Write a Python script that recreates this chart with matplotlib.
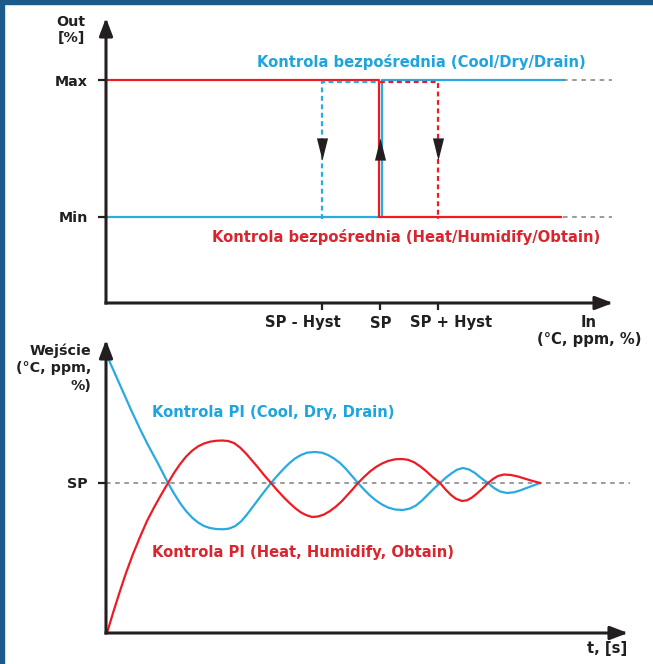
import matplotlib.pyplot as plt
from matplotlib.patches import Rectangle
from matplotlib.transforms import offset_copy, ScaledTranslation

W, H = 653, 664
DARK = '#231f20'
BLUE = '#29aae1'
RED = '#ed1c24'
BLUE_TXT = '#1ea5df'
RED_TXT = '#d9262e'
GREY = '#808080'

# --- histereza (gorny wykres) ---
in_ticks = [-1, 0, 1]
in_labels = ['SP - Hyst', 'SP', 'SP + Hyst']
out_ticks = [0, 1]
out_labels = ['Min', 'Max']
in_start, in_end, in_dash_end = -4.72, 3.15, 4.0

cool_x = [in_start, 0, 0, in_end]
cool_y = [0, 0, 1, 1]
heat_x = [in_start, 0, 0, in_end]
heat_y = [1, 1, 0, 0]
cool_ret_x = [-1, -1, 0]
cool_ret_y = [0, 1, 1]
heat_ret_x = [0, 1, 1]
heat_ret_y = [1, 1, 0]
arrow_x = [-1, 0, 1]
arrow_up = [False, True, False]
arrow_level = 0.5

# --- regulacja PI (dolny wykres) ---
sp_value = 0
cool_t = [2, 10, 18, 26, 34, 42, 52, 62,
          68, 74, 80, 86, 92, 98, 104, 110, 117, 123, 129, 135, 141, 147,
          153, 159, 165,
          171, 177, 183, 189, 195, 201, 209, 216, 222, 228, 234, 240, 246,
          252,
          258, 264, 270, 276, 282, 289, 297, 304, 310, 316, 322, 328, 334,
          340, 346, 351, 357, 363, 369, 375, 382,
          388, 394, 401, 408, 414, 420, 427, 434]
cool_v = [125, 107, 89, 71, 54, 38, 19.5, 0,
          -10.5, -20, -28, -34.5, -39.5, -43, -45, -46, -46.3, -45.6, -43.2,
          -38.5, -31.5, -23.5, -15.5, -7.7, 0,
          7, 13.5, 19.5, 24.5, 28, 30.3, 31, 30.3, 28, 24.5, 20, 14, 7,
          0,
          -6.5, -12.5, -17.5, -21.5, -24.5, -26.5, -27, -25.5, -22.5, -17.5,
          -11.5, -5.5, 0,
          5.5, 10, 13.3, 15, 13.5, 10, 5, 0,
          -5, -8.5, -10, -9.3, -7.5, -5.2, -2.6, 0]
heat_t = [1, 7, 14, 20, 27, 34, 41, 48, 55, 62,
          68, 74, 80, 86, 92, 98, 104, 110, 116, 122, 128, 134, 140, 146,
          152, 158, 165,
          171, 177, 183, 189, 195, 200, 206, 212, 218, 224, 230, 236, 241,
          246, 252,
          258, 264, 270, 276, 282, 289, 296, 302, 308, 314, 320, 326, 334,
          340, 345, 350, 356, 361, 366, 371, 376, 382,
          387, 392, 398, 405, 412, 419, 426, 434]
heat_v = [-150, -130, -108, -90, -71, -54, -38, -24.5, -12, 0,
          10, 18.8, 26.3, 32.2, 36.6, 39.5, 41.3, 42.2, 42.5, 42, 40, 35.5,
          29.5, 22.5, 15.5, 8, 0,
          -7, -13.5, -19.5, -25, -29.5, -32, -34, -33.5, -31.5, -28, -23.5,
          -18, -12.5, -7, 0,
          6, 11.5, 16, 19.5, 22, 23.7, 24, 23.2, 20.8, 16.8, 12, 6.5, 0,
          -7, -12, -15.8, -18, -17.3, -14.5, -10.5, -6, 0,
          4, 7, 8.5, 8, 6.5, 4.3, 2.2, 0]

plt.rcParams['font.family'] = 'DejaVu Sans'
plt.rcParams['font.weight'] = 'bold'
plt.rcParams['font.size'] = 10.6

fig = plt.figure(figsize=(W / 100, H / 100), dpi=100)


def box(x0, y0, x1, y1):
    return [x0 / W, 1 - y1 / H, (x1 - x0) / W, (y1 - y0) / H]


def arrow_axes(ax):
    for s in ax.spines.values():
        s.set_visible(False)
    style = '-|>,head_length=1.0,head_width=0.38'
    for xy in [(1, 0), (0, 1)]:
        ax.annotate('', xy=xy, xytext=(0, 0), xycoords='axes fraction',
                    arrowprops=dict(arrowstyle=style, lw=2.2, color=DARK,
                                    shrinkA=0, shrinkB=0, capstyle='projecting'))


def ftext(x, y, s, **kw):
    kw.setdefault('color', DARK)
    fig.text(x / W, 1 - y / H, s, fontweight='bold', **kw)


# ---------------- gorny wykres ----------------
ax1 = fig.add_axes(box(106, 18, 613, 303))
ax1.set_xlim(-4.724, 4.017)
ax1.set_ylim(-0.628, 1.453)
arrow_axes(ax1)

left = offset_copy(ax1.transData, fig=fig, x=-1.5, y=0, units='dots')
right = offset_copy(ax1.transData, fig=fig, x=1.5, y=0, units='dots')
below = offset_copy(ax1.transData, fig=fig, x=0, y=-2, units='dots')

ax1.plot(cool_x, cool_y, color=BLUE, lw=1.6, transform=right)
ax1.plot(heat_x, heat_y, color=RED, lw=1.6, transform=left)
ax1.plot(cool_ret_x, cool_ret_y, color=BLUE, lw=1.6, ls=(0, (2.2, 1.6)),
         transform=below)
ax1.plot(heat_ret_x, heat_ret_y, color=RED, lw=1.6, ls=(0, (2.2, 1.6)),
         transform=below)
for lvl in out_ticks:
    ax1.plot([in_end, in_dash_end], [lvl, lvl], color=GREY, lw=1.1,
             ls=(0, (3, 3)), clip_on=False)

down_tri = [(-0.5, 1), (0.5, 1), (0, -1), (-0.5, 1)]
up_tri = [(-0.5, -1), (0.5, -1), (0, 1), (-0.5, -1)]
for x, up in zip(arrow_x, arrow_up):
    ax1.plot([x], [arrow_level], marker=up_tri if up else down_tri,
             ms=16, color=DARK, mec=DARK, mew=0)

ax1.set_xticks(in_ticks)
ax1.set_xticklabels(in_labels)
ax1.set_yticks(out_ticks)
ax1.set_yticklabels(out_labels, fontsize=10.3)
ax1.tick_params(axis='x', length=5, width=1.6, color=DARK, pad=4,
                labelcolor=DARK)
ax1.tick_params(axis='y', length=6, width=1.6, color=DARK, pad=7,
                labelcolor=DARK)
shifts = [-19, 1, 13]
for lab, dx in zip(ax1.get_xticklabels(), shifts):
    lab.set_transform(lab.get_transform() +
                      ScaledTranslation(dx / 100, 0, fig.dpi_scale_trans))

ftext(71, 30, 'Out\n[%]', ha='center', va='center', multialignment='center',
      fontsize=10.3)
ftext(589, 331, 'In\n(°C, ppm, %)', ha='center', va='center',
      multialignment='center', linespacing=1.2)
ftext(421, 62, 'Kontrola bezpośrednia (Cool/Dry/Drain)', ha='center',
      va='center', color=BLUE_TXT)
ftext(406, 237, 'Kontrola bezpośrednia (Heat/Humidify/Obtain)', ha='center',
      va='center', color=RED_TXT)

# ---------------- dolny wykres ----------------
ax2 = fig.add_axes(box(106, 340, 628, 633))
ax2.set_xlim(0, 522)
ax2.set_ylim(-150, 143)
arrow_axes(ax2)

ax2.axhline(sp_value, color=GREY, lw=1.1, ls=(0, (3, 3)), xmax=1.004,
            clip_on=False)
ax2.plot(cool_t, cool_v, color=BLUE, lw=1.6, clip_on=False,
         solid_joinstyle='round')
ax2.plot(heat_t, heat_v, color=RED, lw=1.6, clip_on=False,
         solid_joinstyle='round')

ax2.set_xticks([])
ax2.set_yticks([sp_value])
ax2.set_yticklabels(['SP'], fontsize=10.3)
ax2.tick_params(axis='y', length=6, width=1.6, color=DARK, pad=7,
                labelcolor=DARK)

ftext(91, 368, 'Wejście\n(°C, ppm,\n%)', ha='right', va='center',
      multialignment='right', linespacing=1.3, fontsize=10.3)
ftext(627, 648, 't, [s]', ha='right', va='center')
ftext(152, 413, 'Kontrola PI (Cool, Dry, Drain)', ha='left', va='center',
      color=BLUE_TXT)
ftext(152, 553, 'Kontrola PI (Heat, Humidify, Obtain)', ha='left',
      va='center', color=RED_TXT)

# ramka
fig.patches.append(Rectangle((0, 1 - 4 / H), 1, 4 / H,
                             transform=fig.transFigure, color='#1b5b8c'))
fig.patches.append(Rectangle((0, 0), 3.5 / W, 1,
                             transform=fig.transFigure, color='#1b5b8c'))

fig.savefig('out.png', dpi=100)
